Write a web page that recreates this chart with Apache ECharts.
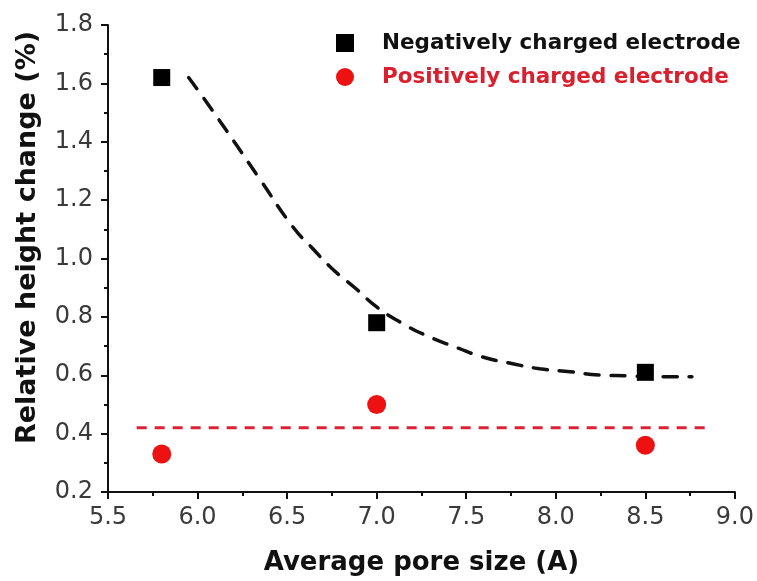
<!DOCTYPE html>
<html>
<head>
<meta charset="utf-8">
<script src="https://cdn.jsdelivr.net/npm/echarts@6/dist/echarts.min.js"></script>
<style>
  html, body { margin: 0; padding: 0; background: #fff; }
  #chart { width: 757px; height: 581px; }
</style>
</head>
<body>
<div id="chart"></div>
<script>
// Measured points: average pore size (Å) vs. relative height change (%)
const poreSize = [5.8, 7.0, 8.5];
const negativeChange = [1.62, 0.78, 0.61];
const positiveChange = [0.33, 0.50, 0.36];

// Fitted trend for the negatively charged electrode
const fitX = [5.95, 6.08, 6.35, 6.53, 6.64, 6.75, 6.88, 7.00, 7.14, 7.27, 7.45, 7.59, 7.74, 7.91, 8.08, 8.24, 8.39, 8.56, 8.76];
const fitY = [1.62, 1.51, 1.27, 1.11, 1.036, 0.966, 0.899, 0.834, 0.779, 0.738, 0.694, 0.663, 0.642, 0.622, 0.612, 0.601, 0.598, 0.595, 0.595];

// Mean level for the positively charged electrode
const meanX = [5.66, 8.84];
const meanLevel = 0.42;

const NEG = 'Negatively charged electrode';
const POS = 'Positively charged electrode';
const FONT = '"DejaVu Sans", Verdana, sans-serif';

const chart = echarts.init(document.getElementById('chart'));

const axisCommon = {
  axisLine: { show: true, onZero: false, lineStyle: { color: '#111', width: 2 } },
  axisTick: { show: true, inside: false, length: 7, lineStyle: { color: '#111', width: 2 } },
  minorTick: { show: true, splitNumber: 2, length: 4, lineStyle: { color: '#111', width: 2 } },
  splitLine: { show: false },
  nameLocation: 'middle',
  nameTextStyle: { fontFamily: FONT, fontWeight: 'bold', fontSize: 26, color: '#111' },
  axisLabel: { fontFamily: FONT, fontSize: 24, color: '#3a3a3a' }
};

chart.setOption({
  animation: false,
  backgroundColor: '#fff',
  grid: { left: 108, right: 21, top: 25, bottom: 89, containLabel: false },
  legend: {
    orient: 'vertical',
    left: 331,
    top: 27,
    itemWidth: 18,
    itemHeight: 18,
    itemGap: 12,
    selectedMode: false,
    textStyle: { fontFamily: FONT, fontSize: 21.5, fontWeight: 'bold', padding: [0, 0, 0, 23] },
    data: [
      { name: NEG, icon: 'rect', itemStyle: { color: '#000', opacity: 1 }, textStyle: { color: '#111' } },
      { name: POS, icon: 'circle', itemStyle: { color: '#ee1111', opacity: 1 }, textStyle: { color: '#d8202e' } }
    ]
  },
  xAxis: Object.assign({}, axisCommon, {
    type: 'value',
    min: 5.5, max: 9.0, interval: 0.5,
    name: 'Average pore size (A)',
    nameGap: 58,
    axisLabel: Object.assign({}, axisCommon.axisLabel, {
      margin: 14,
      formatter: v => v.toFixed(1)
    })
  }),
  yAxis: Object.assign({}, axisCommon, {
    type: 'value',
    min: 0.2, max: 1.8, interval: 0.2,
    name: 'Relative height change (%)',
    nameGap: 67,
    nameTextStyle: Object.assign({}, axisCommon.nameTextStyle, {
      fontSize: 27,
      padding: [0, 0, 0, 42]
    }),
    axisLabel: Object.assign({}, axisCommon.axisLabel, {
      margin: 15,
      formatter: v => v.toFixed(1)
    })
  }),
  series: [
    {
      name: 'fit',
      type: 'line',
      smooth: true,
      symbol: 'none',
      data: fitX.map((x, i) => [x, fitY[i]]),
      lineStyle: { color: '#111', width: 3.5, type: [14, 12], cap: 'round' },
      z: 2
    },
    {
      name: 'mean',
      type: 'line',
      symbol: 'none',
      data: meanX.map(x => [x, meanLevel]),
      lineStyle: { color: '#dd2233', width: 3, type: [10, 8] },
      z: 2
    },
    {
      name: NEG,
      type: 'scatter',
      symbol: 'rect',
      symbolSize: 17,
      itemStyle: { color: '#000', opacity: 1 },
      data: poreSize.map((x, i) => [x, negativeChange[i]]),
      z: 3
    },
    {
      name: POS,
      type: 'scatter',
      symbol: 'circle',
      symbolSize: 19,
      itemStyle: { color: '#ee1111', opacity: 1 },
      data: poreSize.map((x, i) => [x, positiveChange[i]]),
      z: 3
    }
  ]
});
</script>
</body>
</html>
